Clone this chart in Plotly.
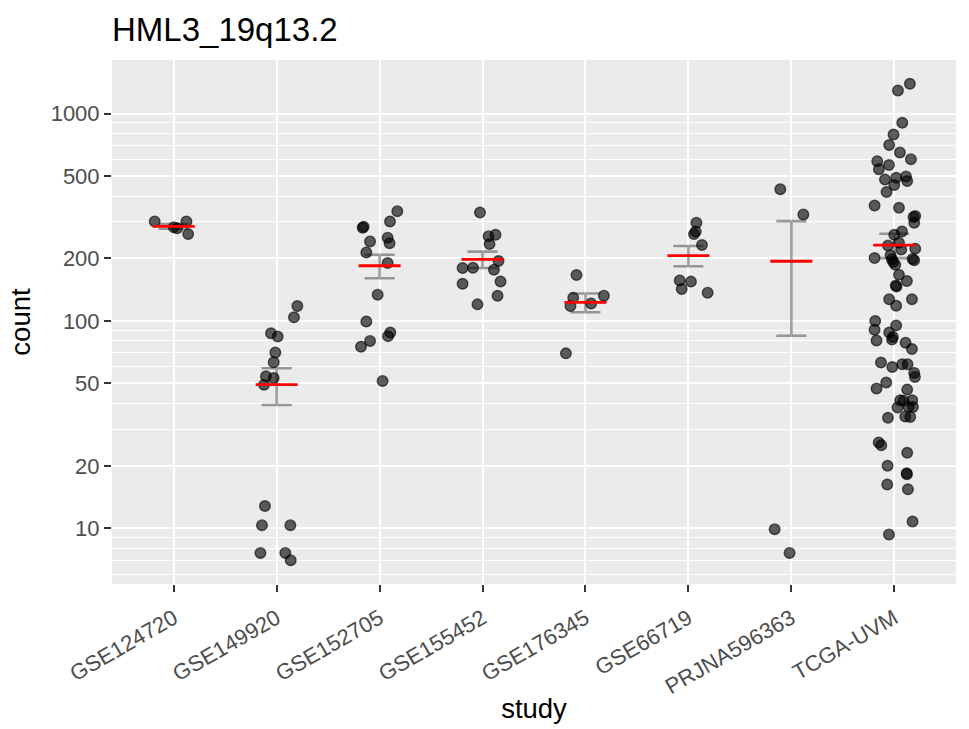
import numpy as np
import plotly.graph_objects as go

# ---- data ----
categories = ["GSE124720", "GSE149920", "GSE152705", "GSE155452",
              "GSE176345", "GSE66719", "PRJNA596363", "TCGA-UVM"]

counts_GSE124720 = [301.7, 301.7, 280, 283, 262]
jitter_GSE124720 = [-0.185, 0.123, 0.033, 0.0, 0.140]

counts_GSE149920 = [117.8, 104, 87.1, 84.1, 70.3, 63.1, 54.0, 53.0, 49.2,
                    12.8, 10.34, 10.34, 7.6, 7.6, 7.01]
jitter_GSE149920 = [0.201, 0.168, -0.055, 0.010, -0.013, -0.029, -0.104, -0.029, -0.123,
                    -0.114, -0.143, 0.133, -0.158, 0.084, 0.136]

counts_GSE152705 = [338, 301.7, 281, 284, 241.6, 251.8, 237, 213.9, 190,
                    133.7, 99.4, 87.8, 84.4, 80.0, 75.1, 51.3]
jitter_GSE152705 = [0.172, 0.101, -0.165, -0.155, -0.093, 0.078, 0.097, -0.129, 0.078,
                    -0.019, -0.129, 0.104, 0.082, -0.093, -0.181, 0.029]

counts_GSE155452 = [333, 256, 260, 234.6, 194.2, 179.7, 180.4, 176.5, 155, 151, 132.2, 120.1]
jitter_GSE155452 = [-0.025, 0.058, 0.126, 0.068, 0.155, -0.194, -0.093, 0.111, 0.175,
                    -0.194, 0.146, -0.049]

counts_GSE176345 = [166.3, 132.2, 129.3, 121.4, 117.8, 69.7]
jitter_GSE176345 = [-0.087, 0.179, -0.119, 0.055, -0.146, -0.190]

counts_GSE66719 = [297.4, 270, 262, 232, 156.7, 154.6, 142.3, 136.7]
jitter_GSE66719 = [0.078, 0.071, 0.054, 0.132, -0.084, 0.025, -0.065, 0.187]

counts_PRJNA596363 = [431.7, 326, 9.89, 7.6]
jitter_PRJNA596363 = [-0.107, 0.117, -0.162, -0.017]

counts_TCGA_UVM = [1390, 1290, 902, 792, 704, 649, 602, 589, 564, 539, 481, 490, 497, 472,
                   452, 418, 360, 351, 316.5, 320, 297, 270, 260, 231, 238, 221, 223, 200.8,
                   207, 198, 199, 196, 186.6, 192, 167, 155.5, 146.6, 148, 127, 127, 118.4,
                   99.8, 90.7, 95.1, 87.8, 83.6, 81.2, 80.5, 78.5, 73.1,
                   62.9, 59.9, 61.7, 61.7, 56.1, 53.6, 50.4, 47.2, 46.6,
                   41.4, 41.2, 41.4, 38.2, 38.4, 38.4, 34.6, 34.4, 34.1,
                   25.9, 25.1, 23.1, 20, 18.2, 18.4, 16.25, 15.4, 10.77, 9.33]
jitter_TCGA_UVM = [0.152, 0.036, 0.078, -0.007, -0.049, 0.055, 0.162, -0.165, -0.051, -0.149,
                   -0.090, 0.019, 0.114, 0.126, 0.0, -0.075, -0.191, 0.046, 0.187, 0.204,
                   0.194, 0.075, 0.0, -0.061, 0.046, 0.068, 0.204, -0.191, -0.036, -0.022,
                   0.178, 0.194, 0.010, -0.010, 0.046, 0.123, 0.022, 0.015, -0.049, 0.172,
                   0.019,
                   -0.185, -0.191, 0.019, -0.049, -0.013, -0.022, -0.172, 0.110, 0.172,
                   -0.129, -0.019, 0.078, 0.129, 0.194, 0.201, -0.078, -0.172, 0.126,
                   0.058, 0.090, 0.175, 0.032, 0.139, 0.182, 0.107, 0.155, -0.061,
                   -0.151, -0.126, 0.126, -0.065, 0.123, 0.121, -0.068, 0.133, 0.178, -0.051]

y_major = [10, 20, 50, 100, 200, 500, 1000]
y_minor = [6, 7, 8, 9, 30, 40, 60, 70, 80, 90, 300, 400, 600, 700, 800, 900]

groups = [
    (counts_GSE124720, jitter_GSE124720),
    (counts_GSE149920, jitter_GSE149920),
    (counts_GSE152705, jitter_GSE152705),
    (counts_GSE155452, jitter_GSE155452),
    (counts_GSE176345, jitter_GSE176345),
    (counts_GSE66719, jitter_GSE66719),
    (counts_PRJNA596363, jitter_PRJNA596363),
    (counts_TCGA_UVM, jitter_TCGA_UVM),
]

FONT = "Liberation Sans, Arial, Helvetica, sans-serif"

xs, ys = [], []
means, ses = [], []
for i, (vals, jit) in enumerate(groups):
    v = np.array(vals, dtype=float)
    xs.extend((i + np.array(jit)).tolist())
    ys.extend(v.tolist())
    means.append(v.mean())
    ses.append(v.std(ddof=1) / np.sqrt(len(v)))

fig = go.Figure()

fig.add_trace(go.Scatter(
    x=xs, y=ys, mode="markers",
    marker=dict(size=10.6, color="rgba(0,0,0,0.62)",
                line=dict(color="rgba(0,0,0,0.62)", width=1.4)),
    showlegend=False, hoverinfo="skip"))

fig.add_trace(go.Scatter(
    x=list(range(len(categories))), y=means, mode="markers",
    marker=dict(size=1, color="rgba(0,0,0,0)"),
    error_y=dict(type="data", array=ses, symmetric=True,
                 color="rgba(0,0,0,0.37)", thickness=2.6, width=15),
    showlegend=False, hoverinfo="skip"))

fig.add_trace(go.Scatter(
    x=list(range(len(categories))), y=means, mode="markers",
    marker=dict(symbol="line-ew", size=30,
                line=dict(color="#FF0000", width=2.8)),
    showlegend=False, hoverinfo="skip"))

fig.update_layout(
    width=969, height=729,
    margin=dict(l=111.5, r=13.2, t=59.5, b=145.2, autoexpand=False),
    paper_bgcolor="white", plot_bgcolor="#EBEBEB",
    font=dict(family=FONT, color="black"),
    title=dict(text="HML3_19q13.2", x=112 / 969, xanchor="left",
               y=1 - 29 / 729, yanchor="middle", yref="container",
               font=dict(size=33, color="black", family=FONT)),
)

fig.update_xaxes(
    range=[-0.6, 7.6], tickmode="array",
    tickvals=list(range(len(categories))), ticktext=categories,
    tickangle=-30, tickfont=dict(size=22, color="#4D4D4D", family=FONT),
    ticks="outside", ticklen=7, tickwidth=2, tickcolor="#333333",
    ticklabelstandoff=5, automargin=False,
    showgrid=True, gridcolor="white", gridwidth=2.2,
    zeroline=False, showline=False,
    title=dict(text="study", font=dict(size=27.5, color="black", family=FONT), standoff=0),
)

fig.update_yaxes(
    type="log", range=[0.731, 3.258], tickmode="array",
    tickvals=y_major, ticktext=[str(v) for v in y_major],
    tickfont=dict(size=22, color="#4D4D4D", family=FONT),
    ticks="outside", ticklen=7, tickwidth=2, tickcolor="#333333",
    automargin=False,
    showgrid=True, gridcolor="white", gridwidth=2.2,
    minor=dict(tickmode="array", tickvals=y_minor, showgrid=True,
               gridcolor="white", gridwidth=1.1, ticks=""),
    zeroline=False, showline=False,
    title=dict(text="count", font=dict(size=27.5, color="black", family=FONT), standoff=12),
)

fig.write_html("out.html")
